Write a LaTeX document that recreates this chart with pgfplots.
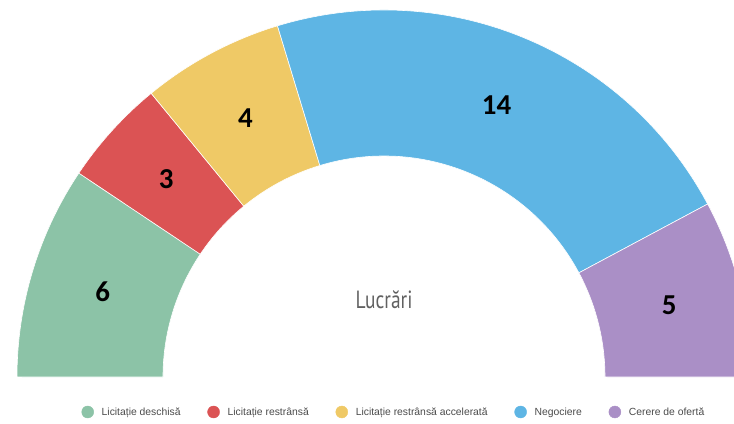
\documentclass[border=0pt]{standalone}
\usepackage{pgfplots}
\pgfplotsset{compat=1.18}
\usepackage{pgfplotstable}
\usepackage{fontspec}
\setmainfont{Liberation Sans}
\newfontfamily\numfont{Carlito}
\newfontfamily\narrowfont[FakeStretch=0.78]{PT Sans}
\definecolor{cgreen}{HTML}{8CC3A7}
\definecolor{cred}{HTML}{DB5354}
\definecolor{cyellow}{HTML}{EFC966}
\definecolor{cblue}{HTML}{5EB5E4}
\definecolor{cpurple}{HTML}{AA8FC6}
\definecolor{legtext}{HTML}{4A4A4A}
\pgfplotstableread{
value color
6 cgreen
3 cred
4 cyellow
14 cblue
5 cpurple
}\slices
% cumulative angles
\def\total{0}
\foreach \i in {0,...,4}{%
  \pgfplotstablegetelem{\i}{value}\of\slices
  \pgfmathsetmacro\t{\total+\pgfplotsretval}%
  \xdef\total{\t}%
}
\def\cum{0}
\foreach \i in {0,...,4}{%
  \pgfplotstablegetelem{\i}{value}\of\slices
  \expandafter\xdef\csname val\i\endcsname{\pgfplotsretval}%
  \pgfmathsetmacro\a{180-\cum/\total*180}%
  \pgfmathsetmacro\c{\cum+\pgfplotsretval}%
  \xdef\cum{\c}%
  \pgfmathsetmacro\b{180-\cum/\total*180}%
  \expandafter\xdef\csname sa\i\endcsname{\a}%
  \expandafter\xdef\csname ea\i\endcsname{\b}%
  \pgfmathsetmacro\m{(\a+\b)/2}%
  \expandafter\xdef\csname ma\i\endcsname{\m}%
  \pgfplotstablegetelem{\i}{color}\of\slices
  \expandafter\xdef\csname col\i\endcsname{\pgfplotsretval}%
}
\def\Ro{367}
\def\Ri{221}
\def\Rl{294}
\begin{document}
\begin{tikzpicture}
\begin{axis}[
  x=1bp, y=1bp,
  xmin=-384, xmax=350, ymin=-47, ymax=377,
  hide axis, clip=true,
  legend columns=-1,
  legend style={at={(axis cs:10,-35)}, anchor=center, draw=none, fill=none,
    font=\fontsize{10.4}{12}\selectfont\color{legtext},
    /tikz/every odd column/.append style={column sep=6bp},
    /tikz/every even column/.append style={column sep=25bp},
    legend cell align=left},
]
\pgfplotsinvokeforeach{0,...,4}{%
  \fill[\csname col#1\endcsname, draw=white, line width=0.6pt]
    (axis cs:{\Ro*cos(\csname sa#1\endcsname)},{\Ro*sin(\csname sa#1\endcsname)})
    arc[start angle=\csname sa#1\endcsname, end angle=\csname ea#1\endcsname, radius=\Ro bp]
    -- (axis cs:{\Ri*cos(\csname ea#1\endcsname)},{\Ri*sin(\csname ea#1\endcsname)})
    arc[start angle=\csname ea#1\endcsname, end angle=\csname sa#1\endcsname, radius=\Ri bp]
    -- cycle;
  \node[font=\numfont\bfseries\fontsize{29}{31}\selectfont]
    at (axis cs:{\Rl*cos(\csname ma#1\endcsname)},{\Rl*sin(\csname ma#1\endcsname)}) {\csname val#1\endcsname};
}
\node[font=\narrowfont\fontsize{25}{28}\selectfont, text=black!62] at (axis cs:0,77) {Lucrări};
\addlegendimage{only marks, mark=*, mark size=6bp, cgreen}
\addlegendentry{Licitație deschisă}
\addlegendimage{only marks, mark=*, mark size=6bp, cred}
\addlegendentry{Licitație restrânsă}
\addlegendimage{only marks, mark=*, mark size=6bp, cyellow}
\addlegendentry{Licitație restrânsă accelerată}
\addlegendimage{only marks, mark=*, mark size=6bp, cblue}
\addlegendentry{Negociere}
\addlegendimage{only marks, mark=*, mark size=6bp, cpurple}
\addlegendentry{Cerere de ofertă}
\end{axis}
\pgfresetboundingbox
\path[use as bounding box] (0,0) rectangle (734bp,424bp);
\end{tikzpicture}
\end{document}
